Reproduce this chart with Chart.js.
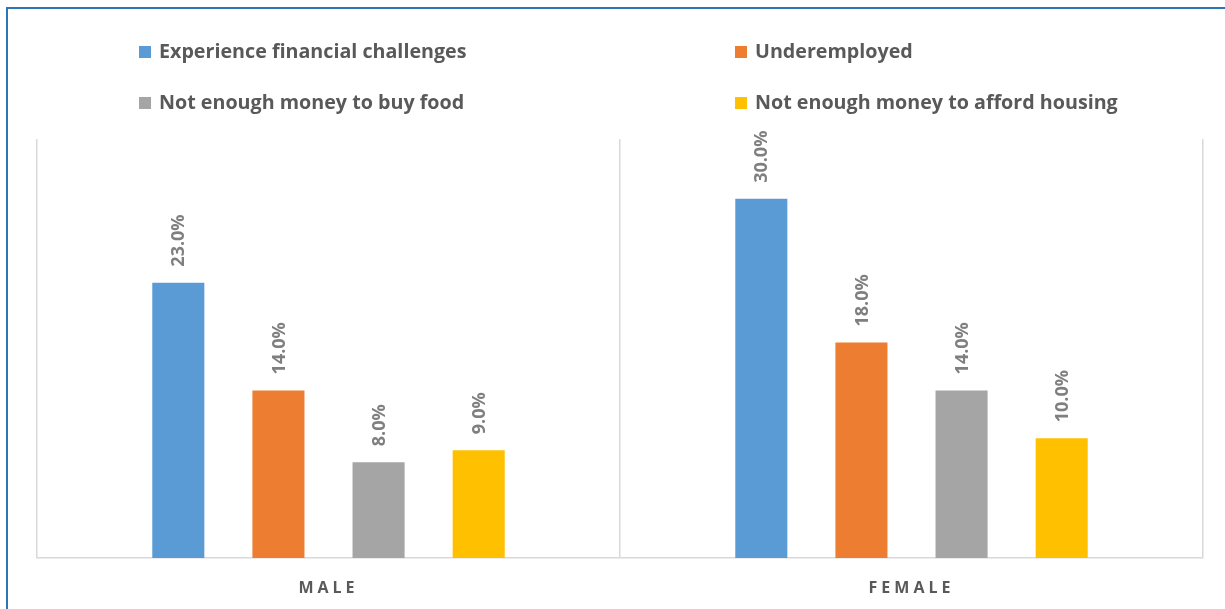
<!DOCTYPE html>
<html>
<head>
<meta charset="utf-8">
<script src="https://cdn.jsdelivr.net/npm/chart.js@4"></script>
<style>
  html, body { margin: 0; padding: 0; background: #ffffff; }
  body { width: 1225px; height: 609px; position: relative; overflow: hidden; }
  .frame {
    position: absolute;
    left: 6px;
    top: 7px;
    width: 1300px;
    height: 700px;
    border-left: 2px solid #2e75b6;
    border-top: 2px solid #2e75b6;
  }
  #chart { position: absolute; left: 0; top: 0; }
</style>
</head>
<body>
<div class="frame"></div>
<canvas id="chart" width="1225" height="609"></canvas>
<script>
const categories = ["MALE", "FEMALE"];
const seriesNames = [
  "Experience financial challenges",
  "Underemployed",
  "Not enough money to buy food",
  "Not enough money to afford housing",
];
const seriesColors = ["#5b9bd5", "#ed7d31", "#a5a5a5", "#ffc000"];

const financialChallenges = [23, 30];
const underemployed = [14, 18];
const notEnoughFood = [8, 14];
const notEnoughHousing = [9, 10];

const yMax = 35;

const seriesValues = [financialChallenges, underemployed, notEnoughFood, notEnoughHousing];

const FONT = "'Open Sans', sans-serif";

// Rotated percentage labels above each bar
const barLabels = {
  id: "barLabels",
  afterDatasetsDraw(chart) {
    const ctx = chart.ctx;
    ctx.save();
    ctx.font = "bold 18px " + FONT;
    ctx.fillStyle = "#7f7f7f";
    ctx.textAlign = "left";
    ctx.textBaseline = "middle";
    chart.data.datasets.forEach((ds, i) => {
      chart.getDatasetMeta(i).data.forEach((bar, j) => {
        ctx.save();
        ctx.translate(bar.x + 1, bar.y - 16);
        ctx.rotate(-Math.PI / 2);
        ctx.fillText(ds.data[j].toFixed(1) + "%", 0, 0);
        ctx.restore();
      });
    });
    ctx.restore();
  },
};

// Two-column legend at the top
const twoColLegend = {
  id: "twoColLegend",
  afterDraw(chart) {
    const ctx = chart.ctx;
    const cols = [139, 735];
    const rows = [52, 103];
    ctx.save();
    ctx.font = "bold 19.7px " + FONT;
    ctx.textBaseline = "middle";
    chart.data.datasets.forEach((ds, i) => {
      const x = cols[i % 2];
      const y = rows[Math.floor(i / 2)];
      ctx.fillStyle = ds.backgroundColor;
      ctx.fillRect(x, y - 6, 12, 12);
      ctx.fillStyle = "#595959";
      ctx.fillText(ds.label, x + 20, y);
    });
    ctx.restore();
  },
};

// Spaced-out category labels on the x axis
const spacedTicks = {
  id: "spacedTicks",
  beforeDraw(chart) {
    chart.ctx.letterSpacing = "4px";
  },
  beforeDatasetsDraw(chart) {
    chart.ctx.letterSpacing = "0px";
  },
};

new Chart(document.getElementById("chart"), {
  type: "bar",
  data: {
    labels: categories,
    datasets: seriesNames.map((name, i) => ({
      label: name,
      data: seriesValues[i],
      backgroundColor: seriesColors[i],
      borderWidth: 0,
      categoryPercentage: 0.687,
      barPercentage: 0.52,
    })),
  },
  options: {
    responsive: false,
    animation: false,
    layout: { padding: { left: 37, right: 22, top: 139, bottom: 0 } },
    plugins: {
      legend: { display: false },
      tooltip: { enabled: false },
    },
    scales: {
      x: {
        grid: {
          offset: true,
          color: "#d9d9d9",
          lineWidth: 1.5,
          drawTicks: false,
        },
        border: { color: "#d9d9d9", width: 1.5 },
        ticks: {
          color: "#595959",
          font: { family: FONT, size: 16, weight: "bold" },
          padding: 21,
        },
        afterFit(scale) {
          scale.height = 51;
        },
      },
      y: {
        display: false,
        min: 0,
        max: yMax,
      },
    },
  },
  plugins: [barLabels, twoColLegend, spacedTicks],
});
</script>
</body>
</html>
